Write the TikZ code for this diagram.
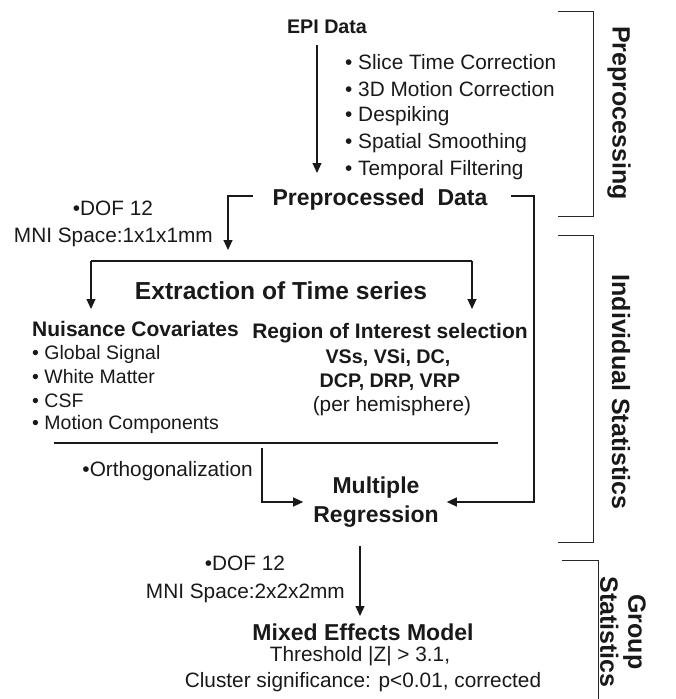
\documentclass[tikz,border=0pt]{standalone}
\usepackage{fontspec}
\setmainfont{Liberation Sans}
\usetikzlibrary{arrows.meta}
\begin{document}
\begin{tikzpicture}[x=1pt,y=-1pt,
  txt/.style={inner sep=0pt, text=black!90},
  reg/.style={txt, font=\fontsize{20.8}{25}\selectfont},
  regs/.style={txt, font=\fontsize{19.5}{23}\selectfont},
  bfa/.style={txt, font=\fontsize{19.7}{24}\selectfont\bfseries},
  bfb/.style={txt, font=\fontsize{21}{25}\selectfont\bfseries},
  bfc/.style={txt, font=\fontsize{23}{29}\selectfont\bfseries},
  bfd/.style={txt, font=\fontsize{24.6}{29}\selectfont\bfseries},
  side/.style={txt, font=\fontsize{25}{28}\selectfont\bfseries, rotate=-90, align=center},
  arr/.style={-{Triangle[length=10pt,width=9pt]}, line width=1.2pt, draw=black!90},
  ln/.style={line width=1.2pt, draw=black!90},
  brk/.style={line width=1pt, draw=black!85}
]
\useasboundingbox (0,0) rectangle (676,699);

% ---- Preprocessing ----
\node[bfa] (epi) at (327,27) {EPI Data};
\node[reg, anchor=west] (s1) at (345,62) {• Slice Time Correction};
\node[reg, anchor=west] (s2) at (345,89) {• 3D Motion Correction};
\node[reg, anchor=west] (s3) at (345,116) {• Despiking};
\node[reg, anchor=west] (s4) at (345,143) {• Spatial Smoothing};
\node[reg, anchor=west] (s5) at (345,170) {• Temporal Filtering};
\node[bfc] (pre) at (380,200) {Preprocessed\ \ Data};

\coordinate (epiA) at (317,45);
\coordinate (epiB) at (317,173);
\draw[arr] (epiA) -- (epiB);

% ---- brackets from Preprocessed Data ----
\coordinate (lbA) at (253,196);
\coordinate (lbB) at (228,196);
\coordinate (lbC) at (228,250);
\draw[arr] (lbA) -- (lbB) -- (lbC);
\node[reg] (dof1) at (113,208) {•DOF 12};
\node[reg, anchor=east] (mni1) at (213,237) {MNI Space:1x1x1mm};

\coordinate (rbA) at (511,196);
\coordinate (rbB) at (534,196);
\coordinate (rbC) at (534,502);

% ---- Extraction ----
\node[bfd] (ext) at (281,291) {Extraction of Time series};
\coordinate (hL) at (91,261);
\coordinate (hR) at (472,261);
\coordinate (hLt) at (91,309);
\coordinate (hRt) at (472,309);
\draw[ln] (hL) -- (hR);
\draw[arr] (hL) -- (hLt);
\draw[arr] (hR) -- (hRt);

\node[bfb, anchor=west] (nui) at (32,329) {Nuisance Covariates};
\node[regs, anchor=west] (n1) at (32,354) {• Global Signal};
\node[regs, anchor=west] (n2) at (32,377) {• White Matter};
\node[regs, anchor=west] (n3) at (32,401) {• CSF};
\node[regs, anchor=west] (n4) at (32,424) {• Motion Components};

\node[bfb] (roi) at (390,333) {Region of Interest selection};
\node[bfa] (vss) at (388,358) {VSs, VSi, DC,};
\node[bfa] (dcp) at (390,382) {DCP, DRP, VRP};
\node[reg] (hemi) at (392,406) {(per hemisphere)};

\coordinate (sepL) at (54,443);
\coordinate (sepR) at (498,443);
\draw[ln] (sepL) -- (sepR);

\node[reg, anchor=east] (orth) at (253,471) {•Orthogonalization};
\node[bfc, align=center] (mr) at (376,502) {Multiple\\Regression};

\coordinate (oA) at (262,448);
\coordinate (oB) at (262,502);
\draw[arr] (oA) -- (oB) -- ([xshift=-10pt]mr.west |- oB);
\draw[arr] (rbA) -- (rbB) -- (rbC) -- ([xshift=8pt]mr.east |- rbC);

% ---- Group ----
\coordinate (gA) at (360,546);
\coordinate (gB) at (360,616);
\draw[arr] (gA) -- (gB);
\node[reg] (dof2) at (245,563) {•DOF 12};
\node[reg, anchor=east] (mni2) at (345,593) {MNI Space:2x2x2mm};
\node[bfc] (mem) at (363,632) {Mixed Effects Model};
\node[reg] (thr) at (360,656) {Threshold |Z| > 3.1,};
\node[reg] (clu) at (363,682) {Cluster significance: p<0.01, corrected};

% ---- side brackets ----
\coordinate (p1) at (558,11);
\coordinate (p2) at (593,11);
\coordinate (p3) at (593,216);
\coordinate (p4) at (558,216);
\draw[brk] (p1) -- (p2) -- (p3) -- (p4);
\node[side] (lp) at (619,113) {Preprocessing};

\coordinate (i1) at (558,235);
\coordinate (i2) at (593,235);
\coordinate (i3) at (593,542);
\coordinate (i4) at (558,542);
\draw[brk] (i1) -- (i2) -- (i3) -- (i4);
\node[side] (li) at (621,392) {Individual Statistics};

\coordinate (g1) at (562,560);
\coordinate (g2) at (598,560);
\coordinate (g3) at (598,699);
\draw[brk] (g1) -- (g2) -- (g3);
\node[side] (lg) at (623,632) {Group\\Statistics};
\end{tikzpicture}
\end{document}
